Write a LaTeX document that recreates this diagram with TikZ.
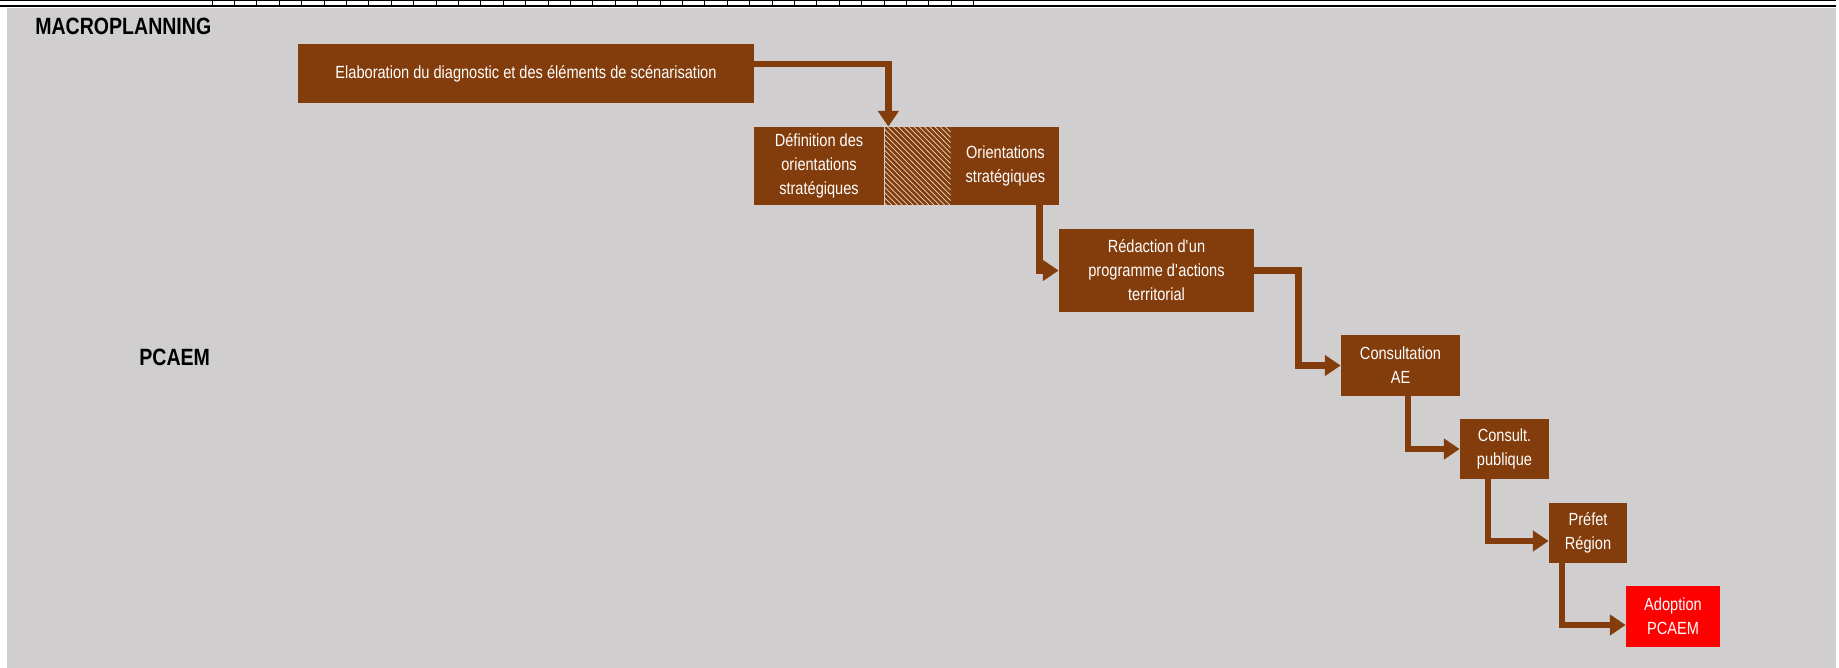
\documentclass[tikz,border=0pt]{standalone}
\usepackage{fontspec}
\setmainfont{Liberation Sans}[FakeStretch=0.83]
\usetikzlibrary{positioning,patterns,arrows.meta}

\definecolor{brun}{RGB}{131,60,11}
\definecolor{fond}{RGB}{208,206,206}

\tikzset{
    etape/.style={fill=brun, text=white, inner sep=0pt, align=center,
        font=\fontsize{10}{13.7}\selectfont},
    fleche/.style={draw=brun, line width=3.7pt,
        -{Triangle[length=9pt,width=11.5pt]}},
    titre/.style={anchor=west, inner sep=0pt,
        font=\fontsize{13.4}{16}\selectfont\bfseries}
}

\begin{document}
\begin{tikzpicture}[x=0.2mm,y=-0.2mm]
    \useasboundingbox (0,0) rectangle (1839,668);

    %grey background and top rule with its ticks
    \fill[fond] (7,8) rectangle (1836,668);
    \draw[line width=0.6pt] (0,0.5) -- (1836,0.5);
    \draw[line width=1.7pt] (0,6) -- (1836,6);
    \foreach \x in {0,...,34}
        \draw[line width=0.4pt] (212+22.4*\x,1) -- (212+22.4*\x,5);

    %row labels
    \node[titre] (macro) at (35,26) {MACROPLANNING};
    \node[titre] (pcaem) at (139,357) {PCAEM};

    %the steps
    \node[etape, minimum width=91.2mm, minimum height=11.8mm] (elab) at (526,73.5)
        {Elaboration du diagnostic et des éléments de scénarisation};
    \node[etape, minimum width=26mm, minimum height=15.6mm] (defin) at (819,166)
        {Définition des\\orientations\\stratégiques};
    \node[etape, minimum width=13.2mm, minimum height=15.6mm,
        postaction={pattern=north west lines, pattern color=brun!20}, right=0pt of defin] (hachure) {};
    \node[etape, minimum width=21.6mm, minimum height=15.6mm, right=0pt of hachure] (orient)
        {Orientations\\stratégiques};
    \node[etape, minimum width=39mm, minimum height=16.6mm] (redac) at (1156.5,270.5)
        {Rédaction d\textquotesingle un\\programme d\textquotesingle actions\\territorial};
    \node[etape, minimum width=23.8mm, minimum height=12.2mm] (consAE) at (1400.5,365.5)
        {Consultation\\AE};
    \node[etape, minimum width=17.8mm, minimum height=12mm] (conspub) at (1504.5,449)
        {Consult.\\publique};
    \node[etape, minimum width=15.6mm, minimum height=12mm] (prefet) at (1588,533)
        {Préfet\\Région};
    \node[etape, fill=red, minimum width=18.8mm, minimum height=12.2mm] (adopt) at (1673,616.5)
        {Adoption\\PCAEM};

    %putting arrows between steps
    \draw[fleche] ([yshift=1.9mm]elab.east) -| ([xshift=0.8mm]hachure.north west);
    \draw[fleche] ([xshift=6.8mm]orient.south) |- (redac.west);
    \draw[fleche] (redac.east) -- ++(44,0) |- (consAE.west);
    \draw[fleche] ([xshift=1.5mm]consAE.south) |- (conspub.west);
    \draw[fleche] ([xshift=-3.3mm]conspub.south) |- ([yshift=-1.6mm]prefet.west);
    \draw[fleche] ([xshift=-5.2mm]prefet.south) |- ([yshift=-1.7mm]adopt.west);
\end{tikzpicture}
\end{document}
